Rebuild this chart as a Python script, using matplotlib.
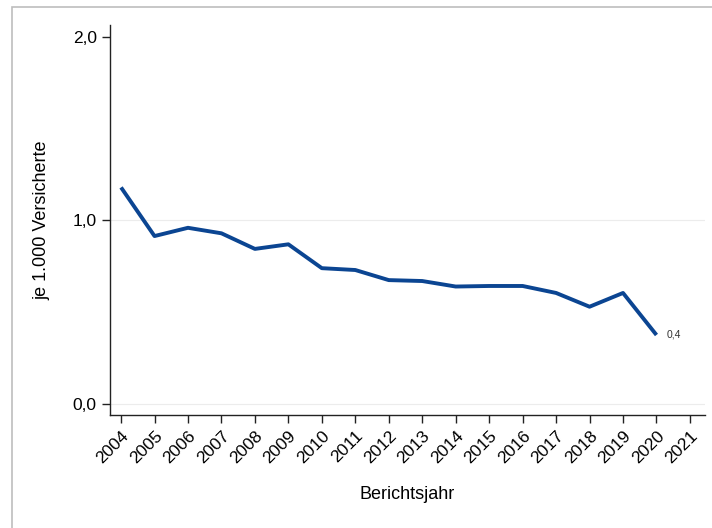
import matplotlib.pyplot as plt
from matplotlib.patches import Rectangle

years = list(range(2004, 2021))
rates = [1.18, 0.915, 0.96, 0.93, 0.845, 0.87, 0.74, 0.73, 0.675,
         0.67, 0.64, 0.643, 0.643, 0.605, 0.53, 0.605, 0.376]
tick_years = list(range(2004, 2022))
y_ticks = [0.0, 1.0, 2.0]
y_labels = ["0,0", "1,0", "2,0"]
last_label = "0,4"

plt.rcParams['font.family'] = ['Liberation Sans', 'DejaVu Sans']

fig = plt.figure(figsize=(7.12, 5.28), dpi=100)
# grey outer frame
fig.patches.append(Rectangle((12 / 712, -0.05), 1.0, 1.0 - 7 / 528 + 0.05,
                             transform=fig.transFigure, fill=False,
                             edgecolor='#bdbdbd', linewidth=1.2))

ax = fig.add_axes([110 / 712, 113 / 528, 595 / 712, 390 / 528])
ax.plot(years, rates, color='#0b4592', linewidth=2.8, solid_joinstyle='round',
        solid_capstyle='butt')
ax.text(years[-1] + 0.3, rates[-1], last_label, fontsize=7.5, va='center',
        ha='left', color='#333333')

ax.set_xlim(2003.67, 2021.45)
ax.set_ylim(-0.06, 2.065)
ax.set_xticks(tick_years)
ax.set_xticklabels([str(y) for y in tick_years], rotation=45, ha='right',
                   rotation_mode='anchor', fontsize=12.5)
ax.set_yticks(y_ticks)
ax.set_yticklabels(y_labels, fontsize=12.5)
ax.tick_params(direction='out', length=6, width=1, color='#222222')

for y in y_ticks[:2]:
    ax.axhline(y, color='#ececec', linewidth=0.8, zorder=0)

for s in ['top', 'right']:
    ax.spines[s].set_visible(False)
for s in ['left', 'bottom']:
    ax.spines[s].set_linewidth(1.0)
    ax.spines[s].set_color('#222222')

ax.set_ylabel("je 1.000 Versicherte", fontsize=13, labelpad=16)
ax.set_xlabel("Berichtsjahr", fontsize=13, labelpad=14)

fig.savefig("out.png", dpi=100)
